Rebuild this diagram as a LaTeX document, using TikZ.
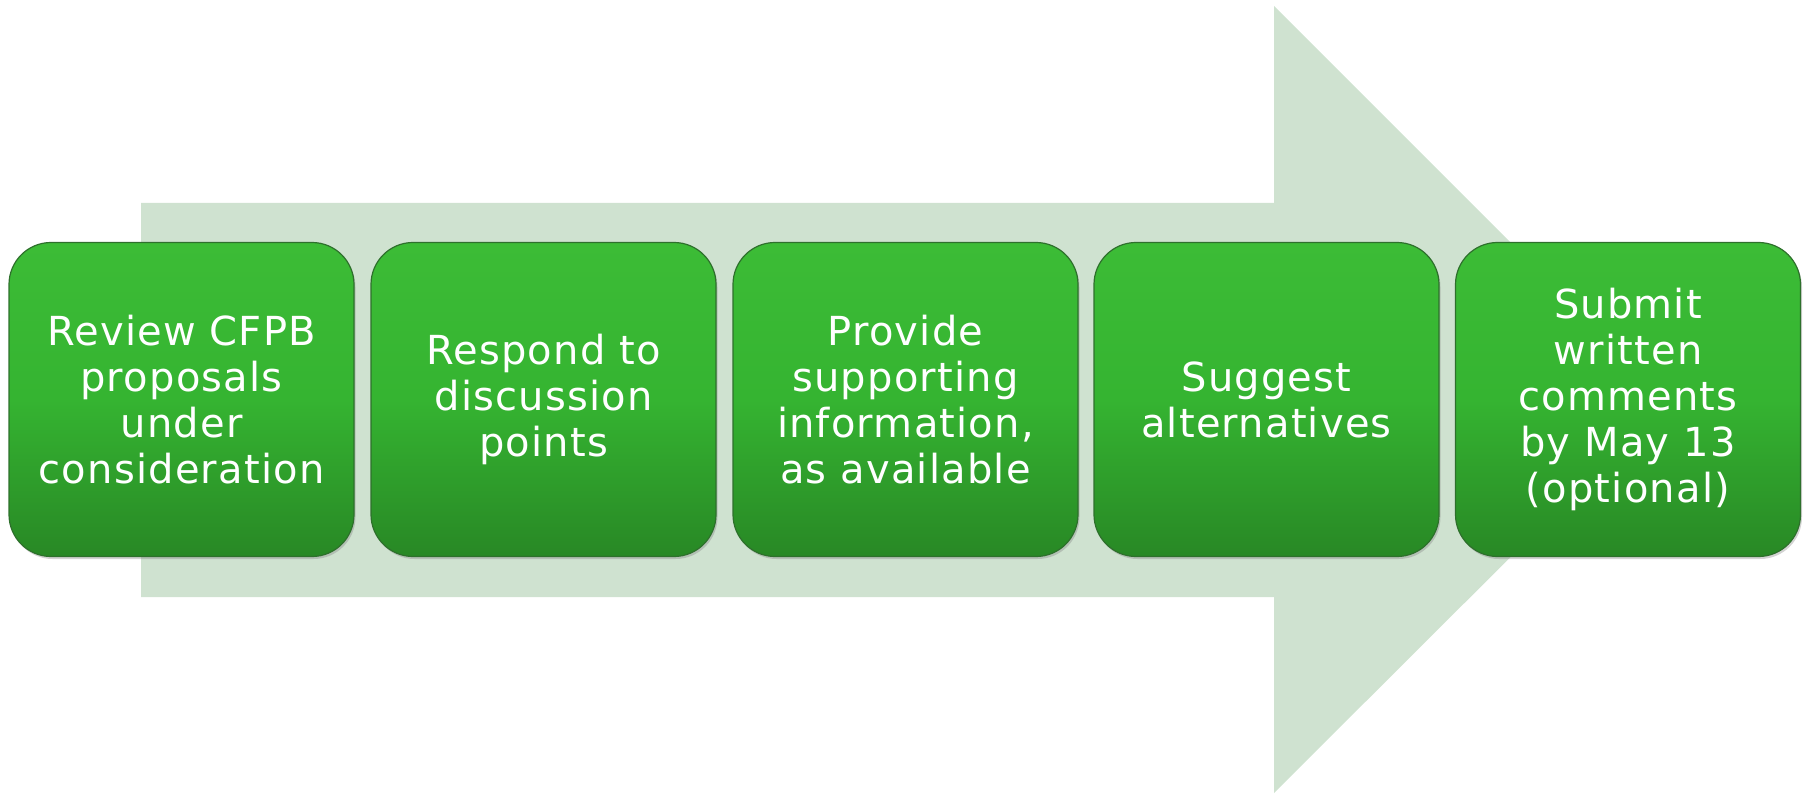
\documentclass[tikz,border=0pt]{standalone}
\usepackage{fontspec}
\newfontfamily\stepfont[LetterSpace=3]{DejaVu Sans}
\usetikzlibrary{shadows}
\definecolor{arrowfill}{RGB}{207,226,208}
\definecolor{boxtop}{RGB}{60,188,54}
\definecolor{boxmid}{RGB}{53,180,49}
\definecolor{boxbot}{RGB}{40,136,37}
\definecolor{boxedge}{RGB}{46,112,44}
\tikzset{
  stepbox/.style={
    rectangle, rounded corners=42pt,
    minimum width=345pt, minimum height=314pt,
    top color=boxtop, bottom color=boxbot, middle color=boxmid,
    draw=boxedge, line width=1.2pt,
    drop shadow={opacity=0.35, shadow xshift=1.5pt, shadow yshift=-2.5pt},
    text=white, align=center, inner sep=0pt,
    font=\stepfont\fontsize{40}{46}\selectfont
  }
}
\begin{document}
\begin{tikzpicture}[x=1pt,y=-1pt]
  \useasboundingbox (0,0) rectangle (1808,794);
  % big background arrow
  \fill[arrowfill] (141,203) -- (1274,203) -- (1274,6) -- (1668,400)
    -- (1274,793) -- (1274,597) -- (141,597) -- cycle;
  % process steps
  \node[stepbox] (b1) at (181.5,399.5) {Review CFPB\\proposals\\under\\consideration};
  \node[stepbox] (b2) at (543.5,399.5) {Respond to\\discussion\\points};
  \node[stepbox] (b3) at (905.5,399.5) {Provide\\supporting\\information,\\as available};
  \node[stepbox] (b4) at (1266.5,399.5) {Suggest\\alternatives};
  \node[stepbox] (b5) at (1628,399.5) {Submit\\written\\comments\\by May 13\\(optional)};
\end{tikzpicture}
\end{document}
